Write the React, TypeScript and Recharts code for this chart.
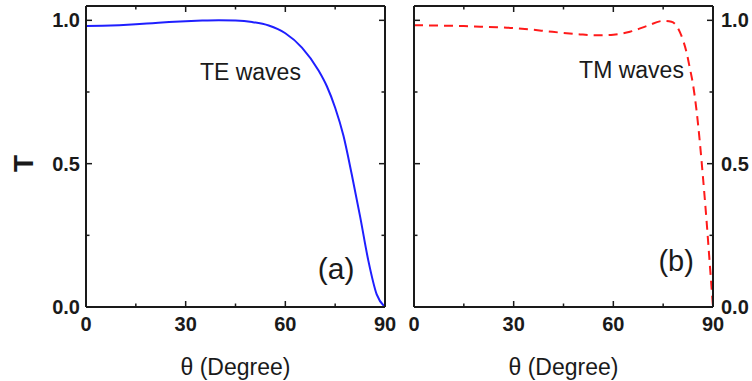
import React from "react";
import { LineChart, Line, XAxis, YAxis, ReferenceDot } from "recharts";

// transmission vs incidence angle
const thetaTE = [0, 5, 10, 15, 20, 25, 30, 35, 40, 45, 50, 55, 60, 65, 70, 72.5, 75, 77.5, 80, 82.5, 85, 87.5, 90];
const transTE = [0.98, 0.981, 0.983, 0.986, 0.99, 0.994, 0.997, 0.999, 1.0, 0.999, 0.994, 0.982, 0.955, 0.905, 0.825, 0.77, 0.695, 0.597, 0.462, 0.316, 0.161, 0.044, 0];

const thetaTM = [0, 5, 10, 15, 20, 25, 30, 35, 40, 45, 50, 55, 60, 65, 70, 75, 77.5, 80, 81, 82, 83, 84, 85, 86, 87, 88, 89, 90];
const transTM = [0.983, 0.982, 0.981, 0.98, 0.978, 0.976, 0.973, 0.968, 0.962, 0.956, 0.951, 0.948, 0.95, 0.96, 0.98, 0.998, 0.995, 0.96, 0.93, 0.89, 0.835, 0.775, 0.69, 0.58, 0.45, 0.31, 0.155, 0];

const xTicks = [0, 15, 30, 45, 60, 75, 90];
const xLabels = [0, 30, 60, 90];
const yTicks = [0, 0.25, 0.5, 0.75, 1.0];
const yLabels = [0, 0.5, 1.0];

const teData = thetaTE.map((t, i) => ({ theta: t, T: transTE[i] }));
const tmData = thetaTM.map((t, i) => ({ theta: t, T: transTM[i] }));

const FONT = '"Liberation Sans", Arial, sans-serif';
const INK = "#1a1a1a";
const MAJOR = 6;
const MINOR = 3.5;

const tickText = { fontFamily: FONT, fontWeight: 700, fontSize: 20, fill: INK };

function BottomTick({ x, y, payload }: any) {
  const major = xLabels.includes(payload.value);
  return (
    <g>
      <line x1={x} x2={x} y1={y} y2={y - (major ? MAJOR : MINOR)} stroke={INK} strokeWidth={1.5} />
      {major && <text x={x} y={y + 24} textAnchor="middle" {...tickText}>{payload.value}</text>}
    </g>
  );
}

function TopTick({ x, y, payload }: any) {
  const major = xLabels.includes(payload.value);
  return <line x1={x} x2={x} y1={y} y2={y + (major ? MAJOR : MINOR)} stroke={INK} strokeWidth={1.5} />;
}

function LeftTick({ x, y, payload, showLabel }: any) {
  const major = yLabels.includes(payload.value);
  return (
    <g>
      <line x1={x} x2={x + (major ? MAJOR : MINOR)} y1={y} y2={y} stroke={INK} strokeWidth={1.5} />
      {showLabel && major && (
        <text x={x - 6} y={y + 7} textAnchor="end" {...tickText}>{payload.value.toFixed(1)}</text>
      )}
    </g>
  );
}

function RightTick({ x, y, payload, showLabel }: any) {
  const major = yLabels.includes(payload.value);
  return (
    <g>
      <line x1={x} x2={x - (major ? MAJOR : MINOR)} y1={y} y2={y} stroke={INK} strokeWidth={1.5} />
      {showLabel && major && (
        <text x={x + 8} y={y + 7} textAnchor="start" {...tickText}>{payload.value.toFixed(1)}</text>
      )}
    </g>
  );
}

function XTitle({ viewBox }: any) {
  const { x, y, width } = viewBox;
  return (
    <text x={x + width / 2} y={y + 68} textAnchor="middle" fontFamily={FONT} fontSize={23} fill={INK}>
      θ (Degree)
    </text>
  );
}

function YTitle({ viewBox }: any) {
  const { x, y, height } = viewBox;
  const cx = x + 23;
  const cy = y + height / 2 + 7;
  return (
    <text x={cx} y={cy} transform={`rotate(-90 ${cx} ${cy})`} textAnchor="middle" dominantBaseline="central"
      fontFamily={FONT} fontWeight={700} fontSize={28} fill={INK}>
      T
    </text>
  );
}

function Anno({ viewBox, text, size, anchor }: any) {
  const cx = viewBox.x + (viewBox.width || 0) / 2;
  const cy = viewBox.y + (viewBox.height || 0) / 2;
  return (
    <text x={cx} y={cy} textAnchor={anchor} fontFamily={FONT} fontSize={size} fill={INK}>{text}</text>
  );
}

interface PanelProps {
  data: { theta: number; T: number }[];
  color: string;
  dash?: string;
  side: "left" | "right";
  width: number;
  margin: { top: number; right: number; bottom: number; left: number };
  leftW: number;
  rightW: number;
  wave: { theta: number; T: number; text: string };
  tag: { theta: number; T: number; text: string; size: number };
}

function Panel({ data, color, dash, side, width, margin, leftW, rightW, wave, tag }: PanelProps) {
  return (
    <LineChart width={width} height={381} data={data} margin={margin}>
      <XAxis dataKey="theta" type="number" domain={[0, 90]} ticks={xTicks} allowDataOverflow
        height={74} tickSize={0} tickMargin={0} tickLine={false}
        axisLine={{ stroke: INK, strokeWidth: 2 }} tick={<BottomTick />} interval={0}
        label={<XTitle />} />
      <XAxis xAxisId="top" orientation="top" dataKey="theta" type="number" domain={[0, 90]} ticks={xTicks} allowDataOverflow
        height={1} tickSize={0} tickMargin={0} tickLine={false}
        axisLine={{ stroke: INK, strokeWidth: 2 }} tick={<TopTick />} interval={0} />
      <YAxis type="number" domain={[0, 1.05]} ticks={yTicks} allowDataOverflow width={leftW}
        tickSize={0} tickMargin={0} tickLine={false} interval={0}
        axisLine={{ stroke: INK, strokeWidth: 2 }} tick={<LeftTick showLabel={side === "left"} />}
        label={side === "left" ? <YTitle /> : undefined} />
      <YAxis yAxisId="right" orientation="right" type="number" domain={[0, 1.05]} ticks={yTicks} allowDataOverflow
        width={rightW} tickSize={0} tickMargin={0} tickLine={false} interval={0}
        axisLine={{ stroke: INK, strokeWidth: 2 }} tick={<RightTick showLabel={side === "right"} />} />
      <Line type="monotone" dataKey="T" stroke={color} strokeWidth={2} strokeDasharray={dash}
        dot={false} activeDot={false} isAnimationActive={false} />
      <ReferenceDot x={wave.theta} y={wave.T} r={0} fill="none" stroke="none" ifOverflow="visible"
        label={<Anno text={wave.text} size={23} anchor="start" />} />
      <ReferenceDot x={tag.theta} y={tag.T} r={0} fill="none" stroke="none" ifOverflow="visible"
        label={<Anno text={tag.text} size={tag.size} anchor="middle" />} />
    </LineChart>
  );
}

export default function App() {
  return (
    <div style={{ position: "absolute", left: 0, top: 0, width: 752, height: 381, background: "#fff" }}>
      <div style={{ position: "absolute", left: 0, top: 0 }}>
        <Panel data={teData} color="#1f1fff" side="left" width={400}
          margin={{ top: 5, right: 14, bottom: 0, left: 0 }} leftW={86} rightW={1}
          wave={{ theta: 34.3, T: 0.791, text: "TE waves" }}
          tag={{ theta: 75.3, T: 0.098, text: "(a)", size: 30 }} />
      </div>
      <div style={{ position: "absolute", left: 400, top: 0 }}>
        <Panel data={tmData} color="#ff1a1a" dash="9 6" side="right" width={352}
          margin={{ top: 5, right: 0, bottom: 0, left: 13 }} leftW={1} rightW={39}
          wave={{ theta: 49.7, T: 0.798, text: "TM waves" }}
          tag={{ theta: 78.9, T: 0.126, text: "(b)", size: 29 }} />
      </div>
    </div>
  );
}
